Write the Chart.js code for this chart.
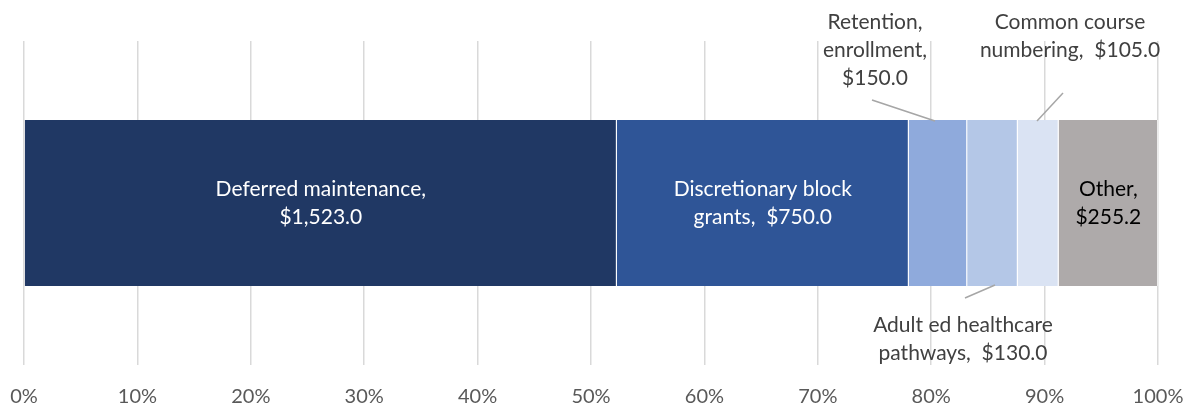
<!DOCTYPE html>
<html>
<head>
<meta charset="utf-8">
<script src="https://cdn.jsdelivr.net/npm/chart.js@4"></script>
<style>
  html, body { margin: 0; padding: 0; background: #fff; }
  #wrap { width: 1190px; height: 407px; }
</style>
</head>
<body>
<div id="wrap"><canvas id="fundChart" width="1190" height="407"></canvas></div>
<script>
// spending categories ($ millions)
const categories = [
  ['Deferred maintenance,', '$1,523.0'],
  ['Discretionary block', 'grants,  $750.0'],
  ['Retention,', 'enrollment,', '$150.0'],
  ['Adult ed healthcare', 'pathways,  $130.0'],
  ['Common course', 'numbering,  $105.0'],
  ['Other,', '$255.2']
];
const amounts = [1523.0, 750.0, 150.0, 130.0, 105.0, 255.2];
const colors = ['#203864', '#2F5597', '#8FAADC', '#B4C7E7', '#DAE3F3', '#AEAAAA'];
const tickValues = [0, 10, 20, 30, 40, 50, 60, 70, 80, 90, 100];

const total = amounts.reduce((a, b) => a + b, 0);

// where each label goes: inside the bar or out with a leader line
const labelPlace = [
  { mode: 'in', color: '#ffffff' },
  { mode: 'in', color: '#ffffff' },
  { mode: 'out', color: '#404040', tx: 875, ty: 22, from: [872, 100], to: [935, 121] },
  { mode: 'out', color: '#404040', tx: 963, ty: 325, from: [995, 285], to: [965, 298] },
  { mode: 'out', color: '#404040', tx: 1070, ty: 22, from: [1063, 93], to: [1037, 121] },
  { mode: 'in', color: '#000000' }
];

const segLabels = {
  id: 'segLabels',
  afterDatasetsDraw(chart) {
    const ctx = chart.ctx;
    ctx.save();
    ctx.font = '21px Lato, "Open Sans", sans-serif';
    ctx.textAlign = 'center';
    ctx.textBaseline = 'middle';
    const lh = 28;
    chart.data.datasets.forEach((ds, i) => {
      const bar = chart.getDatasetMeta(i).data[0];
      const p = labelPlace[i];
      const lines = categories[i];
      ctx.fillStyle = p.color;
      if (p.mode === 'in') {
        const cx = (bar.x + bar.base) / 2;
        const cy = bar.y;
        lines.forEach((t, k) => {
          ctx.fillText(t, cx, cy + (k - (lines.length - 1) / 2) * lh);
        });
      } else {
        lines.forEach((t, k) => ctx.fillText(t, p.tx, p.ty + k * lh));
        ctx.strokeStyle = '#a6a6a6';
        ctx.lineWidth = 1.5;
        ctx.beginPath();
        ctx.moveTo(p.from[0], p.from[1]);
        ctx.lineTo(p.to[0], p.to[1]);
        ctx.stroke();
      }
    });
    ctx.restore();
  }
};

new Chart(document.getElementById('fundChart'), {
  type: 'bar',
  data: {
    labels: [''],
    datasets: amounts.map((v, i) => ({
      label: categories[i].join(' '),
      data: [v / total * 100],
      backgroundColor: colors[i],
      borderColor: 'rgba(255,255,255,0.5)',
      borderWidth: { left: 0, right: 1, top: 0, bottom: 0 },
      borderSkipped: false,
      barPercentage: 0.512,
      categoryPercentage: 1
    }))
  },
  options: {
    indexAxis: 'y',
    responsive: false,
    animation: false,
    layout: { padding: { top: 41, left: 24, right: 32, bottom: 0 } },
    plugins: {
      legend: { display: false },
      tooltip: { enabled: false }
    },
    scales: {
      x: {
        stacked: true,
        min: 0,
        max: 100,
        afterBuildTicks: (axis) => { axis.ticks = tickValues.map(v => ({ value: v })); },
        afterFit: (axis) => {
          axis.height = 42;
          axis.paddingLeft = 0;
          axis.paddingRight = 0;
        },
        ticks: {
          callback: (v) => v + '%',
          color: '#595959',
          font: { family: 'Lato, "Open Sans", sans-serif', size: 20 },
          padding: 20,
          maxRotation: 0
        },
        grid: { color: '#d9d9d9', lineWidth: 1.5, drawTicks: false },
        border: { display: false }
      },
      y: {
        stacked: true,
        display: false
      }
    }
  },
  plugins: [segLabels]
});
</script>
</body>
</html>
